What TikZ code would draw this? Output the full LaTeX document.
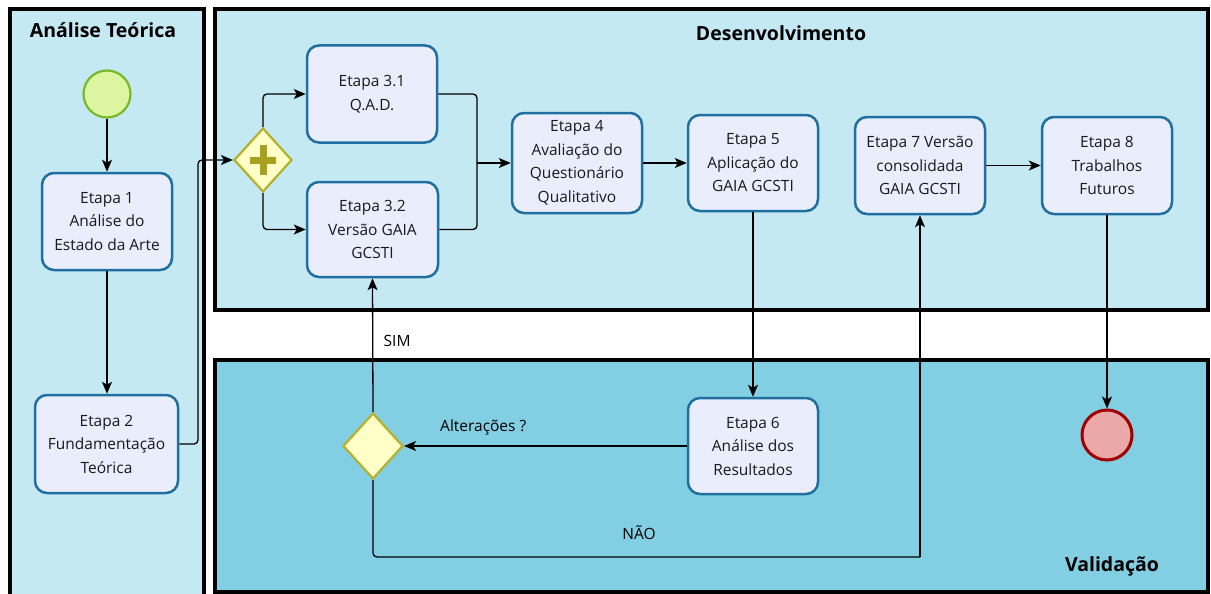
\documentclass[tikz,border=0pt]{standalone}
\usepackage{fontspec}
\setmainfont{Open Sans}
\usetikzlibrary{shapes.geometric,arrows.meta,calc}
\definecolor{poolL}{HTML}{C5E9F3}
\definecolor{poolV}{HTML}{82CFE3}
\definecolor{taskF}{HTML}{EAEEFC}
\definecolor{taskB}{HTML}{1F6FA0}
\definecolor{gwF}{HTML}{FFFFC8}
\definecolor{gwB}{HTML}{B5B12A}
\definecolor{gwP}{HTML}{A8A020}
\definecolor{stF}{HTML}{DDF5A0}
\definecolor{stB}{HTML}{79B829}
\definecolor{enF}{HTML}{EBA8A8}
\definecolor{enB}{HTML}{A00000}
\tikzset{
  taskbox/.style={draw=taskB, fill=taskF, line width=2.5pt, rounded corners=12pt,
    align=center, inner sep=0pt, font=\fontsize{15.5}{23.5}\selectfont, text=black!90},
  gate/.style={diamond, draw=gwB, fill=gwF, line width=2.2pt, inner sep=0pt},
  conn/.style={line width=1.3pt, rounded corners=4pt},
  arr/.style={conn, -{Stealth[length=12pt,width=10pt,inset=3pt]}},
  lbl/.style={font=\fontsize{15.5}{18}\selectfont},
  title/.style={font=\bfseries\fontsize{19.5}{22}\selectfont},
  pool/.style={line width=4pt}
}
\begin{document}
\begin{tikzpicture}[x=1pt,y=-1pt]
\useasboundingbox (0,0) rectangle (1211,594);
\fill[white] (0,0) rectangle (1211,594);
% pools
\fill[poolL] (10,9) rectangle (204,594);
\draw[pool] (10,596) -- (10,9) -- (204,9) -- (204,596);
\draw[pool,fill=poolL] (215,9) rectangle (1208,310);
\draw[pool,fill=poolV] (215,360) rectangle (1208,592);
\node[title] (tA) at (103,30) {Análise Teórica};
\node[title] (tD) at (781,33) {Desenvolvimento};
\node[title] (tV) at (1112,566) {Validação};
% nodes
\node[circle, draw=stB, fill=stF, line width=2.2pt, minimum size=47pt, inner sep=0pt] (start) at (107,94) {};
\node[taskbox, minimum width=130pt, minimum height=97pt] (e1) at (107,221.5) {Etapa 1\\Análise do\\Estado da Arte};
\node[taskbox, minimum width=143pt, minimum height=98pt] (e2) at (106.5,444) {Etapa 2\\Fundamentação\\Teórica};
\node[gate, minimum width=58pt, minimum height=64pt] (gw) at (263,160) {};
\draw[gwP, line width=7pt] (gw.center) ++(-13,0) -- ++(26,0);
\draw[gwP, line width=7pt] (gw.center) ++(0,-15) -- ++(0,30);
\node[taskbox, minimum width=130pt, minimum height=97pt] (e31) at (372,94) {Etapa 3.1\\Q.A.D.};
\node[taskbox, minimum width=131pt, minimum height=95pt] (e32) at (372.5,229.5) {Etapa 3.2\\Versão GAIA\\GCSTI};
\node[taskbox, minimum width=130pt, minimum height=100pt] (e4) at (577,163) {Etapa 4\\Avaliação do\\Questionário\\Qualitativo};
\node[taskbox, minimum width=130pt, minimum height=96pt] (e5) at (753,163) {Etapa 5\\Aplicação do\\GAIA GCSTI};
\node[taskbox, minimum width=130pt, minimum height=97pt] (e7) at (920,165.5) {Etapa 7 Versão\\consolidada\\GAIA GCSTI};
\node[taskbox, minimum width=130pt, minimum height=97pt] (e8) at (1107,165.5) {Etapa 8\\Trabalhos\\Futuros};
\node[taskbox, minimum width=130pt, minimum height=96pt] (e6) at (753,446) {Etapa 6\\Análise dos\\Resultados};
\node[gate, minimum width=60pt, minimum height=66pt] (dec) at (373,446) {};
\node[circle, draw=enB, fill=enF, line width=3pt, minimum size=50pt, inner sep=0pt] (end) at (1107,435) {};
% connectors
\coordinate (j1) at (198,160);
\coordinate (m) at (477,163);
\coordinate (nb) at (920,557);
\draw[arr] (start) -- (e1);
\draw[arr] (e1.south) -- (e1.south |- e2.north);
\draw[arr] (e2.east) -| (j1) -- (gw.west);
\draw[arr] (gw.north) |- (e31.west);
\draw[arr] (gw.south) |- (e32.west);
\draw[conn] (e31.east) -| (m);
\draw[conn] (e32.east) -| (m);
\draw[arr] (m) -- (e4.west);
\draw[arr] (e4) -- (e5);
\draw[arr] (e5.south) -- (e6.north);
\draw[arr] (e6.west) -- node[lbl, pos=0.72, above=7pt] {Alterações ?} (dec.east);
\draw[arr] (dec.north) -- node[lbl, pos=0.53, right=7pt] {SIM} (e32.south);
\draw[conn] (dec.south) |- (nb);
\draw[arr] (nb) -- (e7.south);
\node[lbl] (nao) at (639,533) {NÃO};
\draw[arr] (e7) -- (e8);
\draw[arr] (e8.south) -- (end.north);
\end{tikzpicture}
\end{document}
